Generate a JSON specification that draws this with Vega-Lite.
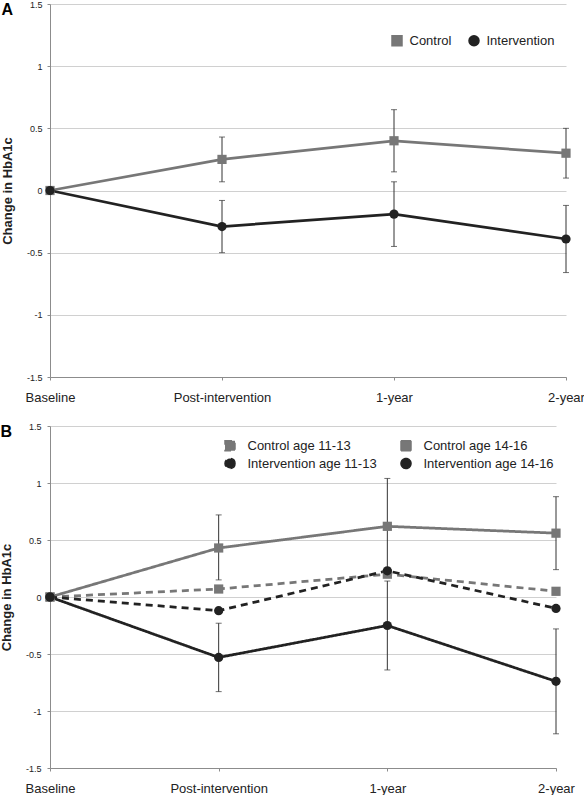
{
  "$schema": "https://vega.github.io/schema/vega-lite/v6.json",
  "padding": 0,
  "background": "white",
  "spacing": 18,
  "datasets": {
    "a": [
      {"time": "Baseline", "group": "Control", "mean": 0, "lo": null, "hi": null},
      {"time": "Post-intervention", "group": "Control", "mean": 0.25, "lo": 0.07, "hi": 0.43},
      {"time": "1-year", "group": "Control", "mean": 0.40, "lo": 0.15, "hi": 0.65},
      {"time": "2-year", "group": "Control", "mean": 0.30, "lo": 0.10, "hi": 0.50},
      {"time": "Baseline", "group": "Intervention", "mean": 0, "lo": null, "hi": null},
      {"time": "Post-intervention", "group": "Intervention", "mean": -0.29, "lo": -0.50, "hi": -0.08},
      {"time": "1-year", "group": "Intervention", "mean": -0.19, "lo": -0.45, "hi": 0.07},
      {"time": "2-year", "group": "Intervention", "mean": -0.39, "lo": -0.66, "hi": -0.12}
    ],
    "b": [
      {"time": "Baseline", "group": "Control age 11-13", "mean": 0, "lo": null, "hi": null},
      {"time": "Post-intervention", "group": "Control age 11-13", "mean": 0.07, "lo": null, "hi": null},
      {"time": "1-year", "group": "Control age 11-13", "mean": 0.20, "lo": null, "hi": null},
      {"time": "2-year", "group": "Control age 11-13", "mean": 0.05, "lo": null, "hi": null},
      {"time": "Baseline", "group": "Control age 14-16", "mean": 0, "lo": null, "hi": null},
      {"time": "Post-intervention", "group": "Control age 14-16", "mean": 0.43, "lo": 0.15, "hi": 0.72},
      {"time": "1-year", "group": "Control age 14-16", "mean": 0.62, "lo": 0.20, "hi": 1.04},
      {"time": "2-year", "group": "Control age 14-16", "mean": 0.56, "lo": 0.24, "hi": 0.88},
      {"time": "Baseline", "group": "Intervention age 11-13", "mean": 0, "lo": null, "hi": null},
      {"time": "Post-intervention", "group": "Intervention age 11-13", "mean": -0.12, "lo": null, "hi": null},
      {"time": "1-year", "group": "Intervention age 11-13", "mean": 0.23, "lo": null, "hi": null},
      {"time": "2-year", "group": "Intervention age 11-13", "mean": -0.10, "lo": null, "hi": null},
      {"time": "Baseline", "group": "Intervention age 14-16", "mean": 0, "lo": null, "hi": null},
      {"time": "Post-intervention", "group": "Intervention age 14-16", "mean": -0.53, "lo": -0.83, "hi": -0.23},
      {"time": "1-year", "group": "Intervention age 14-16", "mean": -0.25, "lo": -0.64, "hi": 0.14},
      {"time": "2-year", "group": "Intervention age 14-16", "mean": -0.74, "lo": -1.20, "hi": -0.28}
    ]
  },
  "config": {
    "view": {"stroke": null},
    "font": "Liberation Sans",
    "axis": {
      "domainColor": "#8c8c8c",
      "tickColor": "#8c8c8c",
      "gridColor": "#d0d0d0",
      "labelColor": "#222222",
      "titleColor": "#222222",
      "labelFont": "Liberation Sans",
      "titleFont": "Liberation Sans"
    }
  },
  "resolve": {
    "scale": {"x": "independent", "y": "independent", "color": "independent", "shape": "independent", "strokeDash": "independent"},
    "legend": {"color": "independent", "shape": "independent", "strokeDash": "independent"}
  },
  "vconcat": [
    {
      "width": 516,
      "height": 373,
      "title": {"text": "A", "anchor": "start", "frame": "bounds", "fontSize": 16, "fontWeight": "bold", "font": "Liberation Sans", "offset": -18, "color": "#000000"},
      "data": {"name": "a"},
      "encoding": {
        "x": {
          "field": "time", "type": "ordinal",
          "sort": ["Baseline", "Post-intervention", "1-year", "2-year"],
          "scale": {"type": "point", "padding": 0},
          "axis": {"title": null, "labelAngle": 0, "labelFontSize": 13, "labelPadding": 11, "tickSize": 3, "grid": false}
        }
      },
      "layer": [
        {
          "mark": {"type": "line", "strokeWidth": 2.75},
          "encoding": {
            "y": {
              "field": "mean", "type": "quantitative", "title": "Change in HbA1c",
              "scale": {"domain": [-1.5, 1.5], "nice": false, "zero": false},
              "axis": {"values": [-1.5, -1, -0.5, 0, 0.5, 1, 1.5], "labelExpr": "'' + datum.value", "labelFontSize": 9, "titleFontSize": 13, "titleFontWeight": "bold", "tickSize": 3, "labelPadding": 5, "titlePadding": 12, "grid": true}
            },
            "color": {"field": "group", "type": "nominal", "scale": {"domain": ["Control", "Intervention"], "range": ["#777777", "#222222"]}}
          }
        },
        {
          "transform": [{"filter": "datum.lo != null"}],
          "mark": {"type": "rule", "color": "#333333", "strokeWidth": 1},
          "encoding": {
            "y": {"field": "lo", "type": "quantitative", "title": "Change in HbA1c", "scale": {"domain": [-1.5, 1.5], "nice": false, "zero": false}},
            "y2": {"field": "hi"}
          }
        },
        {
          "transform": [{"filter": "datum.lo != null"}],
          "mark": {"type": "tick", "color": "#333333", "size": 6, "thickness": 1},
          "encoding": {"y": {"field": "lo", "type": "quantitative", "title": "Change in HbA1c", "scale": {"domain": [-1.5, 1.5], "nice": false, "zero": false}}}
        },
        {
          "transform": [{"filter": "datum.lo != null"}],
          "mark": {"type": "tick", "color": "#333333", "size": 6, "thickness": 1},
          "encoding": {"y": {"field": "hi", "type": "quantitative", "title": "Change in HbA1c", "scale": {"domain": [-1.5, 1.5], "nice": false, "zero": false}}}
        },
        {
          "mark": {"type": "point", "filled": true, "opacity": 1, "size": 85},
          "encoding": {
            "y": {"field": "mean", "type": "quantitative", "title": "Change in HbA1c", "scale": {"domain": [-1.5, 1.5], "nice": false, "zero": false}},
            "color": {
              "field": "group", "type": "nominal",
              "scale": {"domain": ["Control", "Intervention"], "range": ["#777777", "#222222"]},
              "legend": {
                "title": null, "orient": "none", "legendX": 340.5, "legendY": 30,
                "direction": "horizontal", "columns": 2, "padding": 0,
                "symbolSize": 100, "labelFontSize": 13, "labelFont": "Liberation Sans", "labelColor": "#222222",
                "labelOffset": 6, "columnPadding": 14
              }
            },
            "shape": {"field": "group", "type": "nominal", "scale": {"domain": ["Control", "Intervention"], "range": ["square", "circle"]}, "legend": null}
          }
        }
      ]
    },
    {
      "width": 506,
      "height": 342,
      "title": {"text": "B", "anchor": "start", "frame": "bounds", "fontSize": 16, "fontWeight": "bold", "font": "Liberation Sans", "offset": -18, "color": "#000000"},
      "data": {"name": "b"},
      "encoding": {
        "x": {
          "field": "time", "type": "ordinal",
          "sort": ["Baseline", "Post-intervention", "1-year", "2-year"],
          "scale": {"type": "point", "padding": 0},
          "axis": {"title": null, "labelAngle": 0, "labelFontSize": 13, "labelPadding": 11, "tickSize": 3, "grid": false}
        }
      },
      "layer": [
        {
          "mark": {"type": "line", "strokeWidth": 2.75},
          "encoding": {
            "y": {
              "field": "mean", "type": "quantitative", "title": "Change in HbA1c",
              "scale": {"domain": [-1.5, 1.5], "nice": false, "zero": false},
              "axis": {"values": [-1.5, -1, -0.5, 0, 0.5, 1, 1.5], "labelExpr": "'' + datum.value", "labelFontSize": 9, "titleFontSize": 13, "titleFontWeight": "bold", "tickSize": 3, "labelPadding": 6, "titlePadding": 12, "grid": true}
            },
            "color": {"field": "group", "type": "nominal", "scale": {"domain": ["Control age 11-13", "Control age 14-16", "Intervention age 11-13", "Intervention age 14-16"], "range": ["#777777", "#777777", "#222222", "#222222"]}},
            "strokeDash": {"field": "group", "type": "nominal", "scale": {"domain": ["Control age 11-13", "Control age 14-16", "Intervention age 11-13", "Intervention age 14-16"], "range": [[7, 5], [1, 0], [7, 5], [1, 0]]}, "legend": null}
          }
        },
        {
          "transform": [{"filter": "datum.lo != null"}],
          "mark": {"type": "rule", "color": "#333333", "strokeWidth": 1},
          "encoding": {
            "y": {"field": "lo", "type": "quantitative", "title": "Change in HbA1c", "scale": {"domain": [-1.5, 1.5], "nice": false, "zero": false}},
            "y2": {"field": "hi"}
          }
        },
        {
          "transform": [{"filter": "datum.lo != null"}],
          "mark": {"type": "tick", "color": "#333333", "size": 6, "thickness": 1},
          "encoding": {"y": {"field": "lo", "type": "quantitative", "title": "Change in HbA1c", "scale": {"domain": [-1.5, 1.5], "nice": false, "zero": false}}}
        },
        {
          "transform": [{"filter": "datum.lo != null"}],
          "mark": {"type": "tick", "color": "#333333", "size": 6, "thickness": 1},
          "encoding": {"y": {"field": "hi", "type": "quantitative", "title": "Change in HbA1c", "scale": {"domain": [-1.5, 1.5], "nice": false, "zero": false}}}
        },
        {
          "mark": {"type": "point", "filled": true, "opacity": 1, "size": 85},
          "encoding": {
            "y": {"field": "mean", "type": "quantitative", "title": "Change in HbA1c", "scale": {"domain": [-1.5, 1.5], "nice": false, "zero": false}},
            "color": {
              "field": "group", "type": "nominal",
              "scale": {"domain": ["Control age 11-13", "Control age 14-16", "Intervention age 11-13", "Intervention age 14-16"], "range": ["#777777", "#777777", "#222222", "#222222"]},
              "legend": {
                "title": null, "orient": "none", "legendX": 173.5, "legendY": 13,
                "direction": "horizontal", "columns": 2, "padding": 0,
                "symbolSize": 100, "labelFontSize": 13, "labelFont": "Liberation Sans", "labelColor": "#222222",
                "labelOffset": 11, "columnPadding": 20, "rowPadding": 1
              }
            },
            "shape": {"field": "group", "type": "nominal", "scale": {"domain": ["Control age 11-13", "Control age 14-16", "Intervention age 11-13", "Intervention age 14-16"], "range": ["square", "square", "circle", "circle"]}, "legend": null}
          }
        }
      ]
    }
  ]
}
